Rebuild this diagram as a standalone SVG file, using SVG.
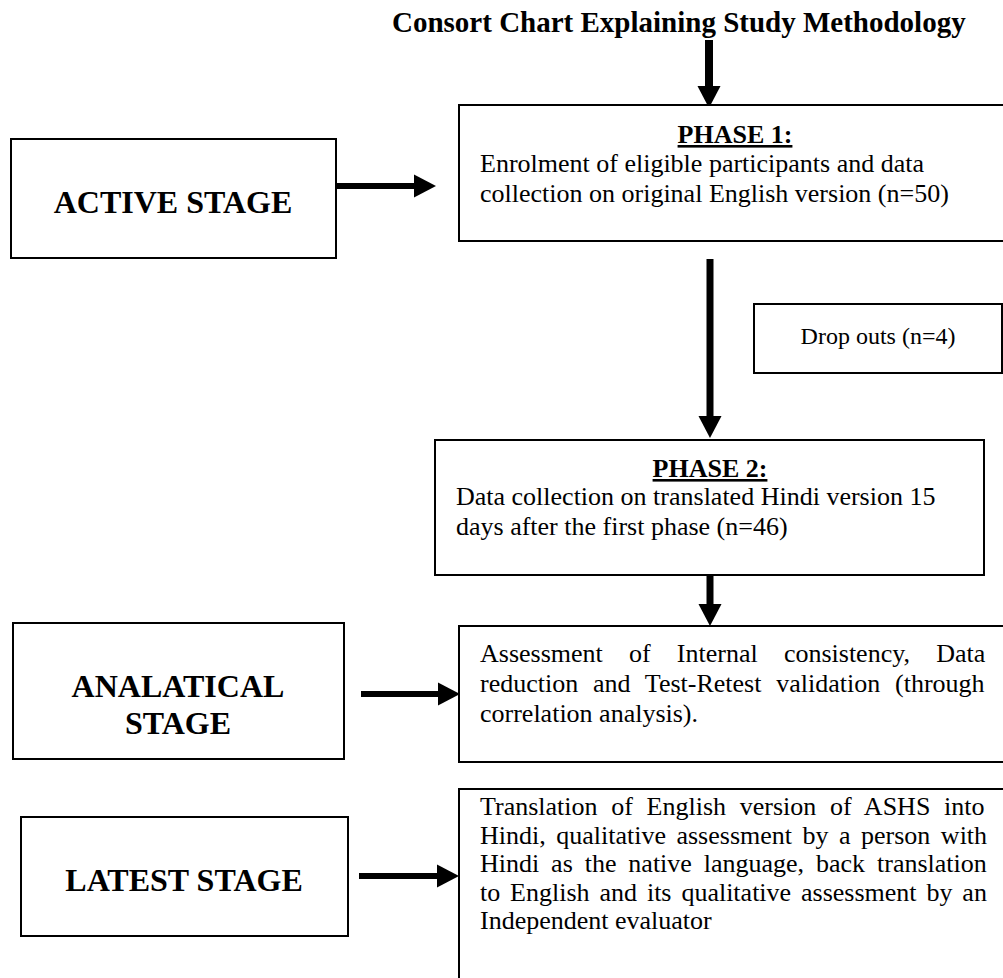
<svg xmlns="http://www.w3.org/2000/svg" width="1003" height="978" viewBox="0 0 1003 978">
<style>
  .box { fill: #ffffff; stroke: #000000; stroke-width: 2; }
  .t { font-family: "Liberation Serif", "Times New Roman", serif; font-size: 26px; fill: #000000; }
  .small { font-size: 24px; }
  .title { font-family: "Liberation Serif", "Times New Roman", serif; font-size: 29px; font-weight: bold; fill: #000000; }
  .stage { font-family: "Liberation Serif", "Times New Roman", serif; font-size: 32px; font-weight: bold; fill: #000000; text-anchor: middle; }
  .head { font-family: "Liberation Serif", "Times New Roman", serif; font-size: 26px; font-weight: bold; fill: #000000; text-anchor: middle; text-decoration: underline; }
  .mid { text-anchor: middle; }
  .conn { stroke: #000000; fill: none; marker-end: url(#ah); }
</style>
<defs>
  <marker id="ah" markerUnits="userSpaceOnUse" markerWidth="22" markerHeight="24" refX="0" refY="11" orient="auto" viewBox="0 0 21 22">
    <path d="M0,0 L21,11 L0,22 Z" fill="#000000"/>
  </marker>
</defs>
<rect x="0" y="0" width="1003" height="978" fill="#ffffff"/>

<text id="title" class="title" x="392" y="32">Consort Chart Explaining Study Methodology</text>

<g id="connectors">
  <line class="conn" x1="709" y1="40" x2="709" y2="86" stroke-width="8"/>
  <line class="conn" x1="336" y1="186" x2="414" y2="186" stroke-width="6"/>
  <line class="conn" x1="710" y1="259" x2="710" y2="416" stroke-width="7"/>
  <line class="conn" x1="710" y1="575" x2="710" y2="604" stroke-width="7"/>
  <line class="conn" x1="361" y1="694" x2="438" y2="694" stroke-width="6"/>
  <line class="conn" x1="359" y1="876" x2="437" y2="876" stroke-width="6"/>
</g>

<g id="active-stage">
  <rect class="box" x="11" y="139" width="325" height="119"/>
  <text class="stage" x="173" y="213">ACTIVE STAGE</text>
</g>

<g id="phase1">
  <rect class="box" x="459" y="105" width="548" height="136"/>
  <text class="head" x="735" y="143">PHASE 1:</text>
  <text class="t" x="480" y="172">Enrolment of eligible participants and data</text>
  <text class="t" x="480" y="202">collection on original English version (n=50)</text>
</g>

<g id="dropouts">
  <rect class="box" x="754" y="304" width="248" height="69"/>
  <text class="t small mid" x="878" y="344">Drop outs (n=4)</text>
</g>

<g id="phase2">
  <rect class="box" x="435" y="440" width="549" height="135"/>
  <text class="head" x="710" y="477">PHASE 2:</text>
  <text class="t" x="456" y="505">Data collection on translated Hindi version 15</text>
  <text class="t" x="456" y="535">days after the first phase (n=46)</text>
</g>

<g id="analatical-stage">
  <rect class="box" x="13" y="623" width="331" height="136"/>
  <text class="stage" x="178" y="697">ANALATICAL</text>
  <text class="stage" x="178" y="734">STAGE</text>
</g>

<g id="assessment">
  <rect class="box" x="459" y="626" width="548" height="136"/>
  <text class="t" x="480" y="662" word-spacing="19.7">Assessment of Internal consistency, Data</text>
  <text class="t" x="480" y="692" word-spacing="8.3">reduction and Test-Retest validation (through</text>
  <text class="t" x="480" y="722">correlation analysis).</text>
</g>

<g id="latest-stage">
  <rect class="box" x="21" y="817" width="327" height="119"/>
  <text class="stage" x="184" y="891">LATEST STAGE</text>
</g>

<g id="translation">
  <rect class="box" x="459" y="789" width="548" height="200"/>
  <text class="t" x="480" y="815" word-spacing="7.2">Translation of English version of ASHS into</text>
  <text class="t" x="480" y="843.5" word-spacing="4">Hindi, qualitative assessment by a person with</text>
  <text class="t" x="480" y="872" word-spacing="5.4">Hindi as the native language, back translation</text>
  <text class="t" x="480" y="900.5" word-spacing="3.4">to English and its qualitative assessment by an</text>
  <text class="t" x="480" y="929">Independent evaluator</text>
</g>
</svg>
